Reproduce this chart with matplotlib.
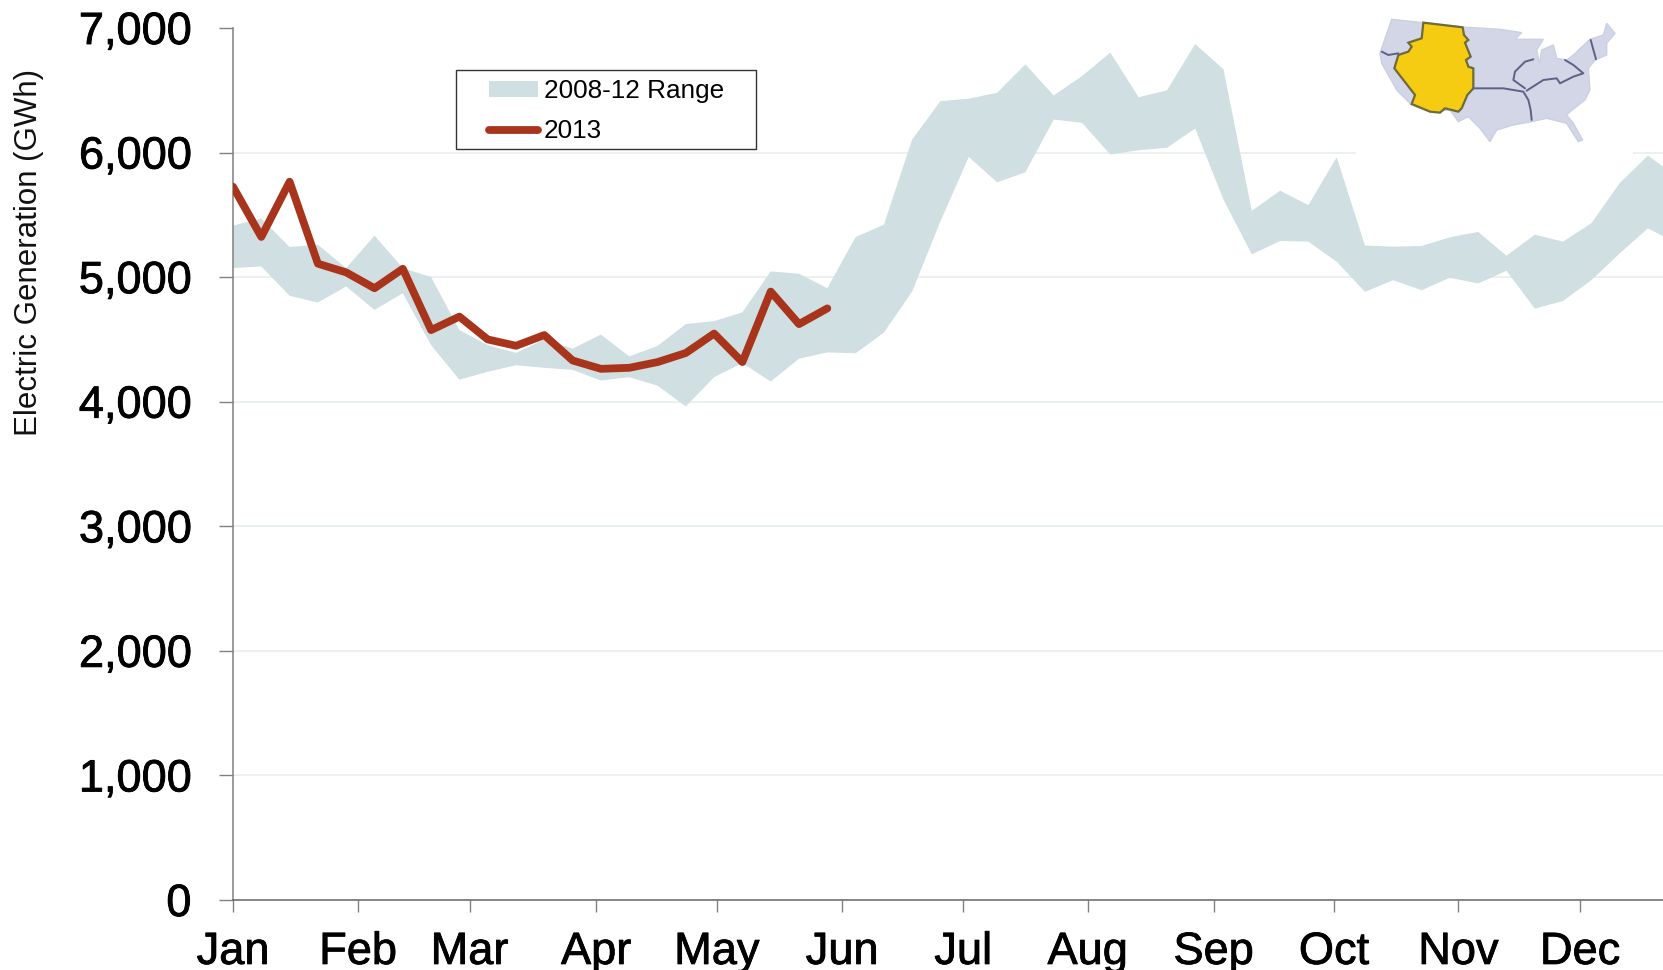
import numpy as np
import matplotlib
matplotlib.use("Agg")
import matplotlib.pyplot as plt
import matplotlib.patheffects as pe
from matplotlib.patches import Polygon, Rectangle

plt.rcParams['font.family'] = ['Liberation Sans', 'DejaVu Sans']

months = ['Jan', 'Feb', 'Mar', 'Apr', 'May', 'Jun', 'Jul', 'Aug', 'Sep', 'Oct', 'Nov', 'Dec']
month_tick_weeks = [0, 4.42, 8.36, 12.83, 17.1, 21.52, 25.8, 30.2, 34.65, 38.9, 43.3, 47.6]
y_ticks = [0, 1000, 2000, 3000, 4000, 5000, 6000, 7000]

range_upper = [5414, 5470, 5242, 5260, 5073, 5333, 5073, 5000, 4575, 4454, 4392, 4500,
               4426, 4539, 4364, 4447, 4623, 4647, 4717, 5046, 5027, 4911, 5322, 5421,
               6105, 6413, 6432, 6480, 6708, 6458, 6614, 6802, 6445, 6499, 6871, 6668,
               5532, 5694, 5578, 5962, 5253, 5245, 5250, 5320, 5363, 5172, 5341, 5285,
               5433, 5755, 5976, 5809]
range_lower = [5073, 5086, 4850, 4796, 4925, 4737, 4871, 4454, 4177, 4240, 4293, 4272,
               4256, 4170, 4197, 4129, 3962, 4197, 4310, 4162, 4345, 4396, 4389, 4555,
               4885, 5450, 5965, 5761, 5842, 6265, 6239, 5984, 6019, 6038, 6193, 5622,
               5183, 5290, 5285, 5124, 4882, 4976, 4895, 4995, 4949, 5051, 4747, 4809,
               4976, 5191, 5392, 5272]
gen_2013 = [5726, 5323, 5766, 5108, 5038, 4911, 5067, 4575, 4683, 4500, 4449, 4535,
            4331, 4264, 4272, 4318, 4391, 4547, 4318, 4884, 4623, 4749]

# Inset map outlines, in the map picture's own coordinates
us_outline = [(155,58),(250,68),(380,82),(480,88),(545,98),(525,118),(575,118),(610,118),(590,150),
              (598,190),(605,150),(640,135),(650,175),(680,180),(700,165),(750,118),(790,105),(800,70),
              (825,100),(800,130),(800,165),(765,180),(745,205),(750,270),(735,300),(690,335),(680,345),
              (700,370),(728,420),(715,425),(680,370),(620,355),(575,365),(520,375),(470,390),(450,425),
              (420,385),(385,350),(355,365),(330,330),(270,335),(215,315),(170,270),(125,190),(120,160),
              (130,130)]
west_region = [(250,68),(368,82),(372,105),(385,120),(375,128),(392,170),(378,180),(385,200),(400,205),
               (400,265),(382,285),(365,325),(355,335),(315,325),(300,338),(270,335),(215,312),(225,285),
               (163,205),(175,165),(205,155),(215,140),(205,128),(245,115)]
interties = [
    [(125,155),(145,165),(175,160)],
    [(400,265),(490,265),(550,275),(565,300),(572,330),(575,360)],
    [(555,265),(520,240),(525,215),(555,185),(580,178)],
    [(560,272),(610,240),(650,235),(660,250),(700,230),(730,220),(700,195),(675,180)],
    [(752,120),(768,178)],
]

W, H = 1663, 970
fig = plt.figure(figsize=((W + 0.01) / 100, (H + 0.01) / 100), dpi=100, facecolor='white')
left, right, top, bottom = 233, 1663, 28, 900
ax = fig.add_axes([left / W, 1 - bottom / H, (right - left) / W, (bottom - top) / H])

weeks = np.arange(len(range_upper))
week_px = 28.3
ax.set_xlim(0, (right - left) / week_px)
ax.set_ylim(0, 7000)

band = ax.fill_between(weeks, range_lower, range_upper, facecolor='#CFDFE2', edgecolor='none',
                       zorder=2, label='2008-12 Range')
line, = ax.plot(np.arange(len(gen_2013)), gen_2013, color='#A8341C', lw=5.6,
                solid_joinstyle='round', solid_capstyle='round', zorder=3, label='2013')

ax.set_axisbelow(True)
ax.set_yticks(y_ticks)
ax.set_yticklabels([f'{v:,}' for v in y_ticks])
ax.yaxis.grid(True, color='#E6ECEC', lw=1.1)
ax.xaxis.grid(False)
ax.yaxis.get_gridlines()[-1].set_visible(False)
for s in ('top', 'right'):
    ax.spines[s].set_visible(False)
ax.spines['left'].set_color('#808080')
ax.spines['left'].set_linewidth(1.1)
ax.spines['bottom'].set_color('#666666')
ax.spines['bottom'].set_linewidth(1.1)

ax.tick_params(axis='y', length=10, width=1.0, color='#808080', pad=20, labelsize=32.5, labelcolor='black')
ax.set_xticks(month_tick_weeks)
ax.set_xticklabels(months)
ax.tick_params(axis='x', length=8.5, width=1.0, color='#808080', pad=14.5, labelsize=32.5, labelcolor='black')
heavy = [pe.withStroke(linewidth=0.6, foreground='black')]
for t in ax.get_xticklabels() + ax.get_yticklabels():
    t.set_path_effects(heavy)

fig.text(29 / W, 1 - 252 / H, 'Electric Generation (GWh)', rotation=90, ha='center', va='center',
         fontsize=22.5, color='#111111')

# Legend frame drawn separately so the entries can sit inset from its left edge
ax.add_patch(Rectangle((456 / W, 1 - 149 / H), 300 / W, 79 / H, transform=fig.transFigure,
                       facecolor='white', edgecolor='#333333', lw=1.0, clip_on=False, zorder=4.5))
leg = ax.legend(handles=[band, line], loc='upper left',
                bbox_to_anchor=(489 / W, 1 - 79 / H), bbox_transform=fig.transFigure,
                fontsize=18.8, frameon=False, borderaxespad=0, borderpad=0, handlelength=1.88,
                handletextpad=0.23, labelspacing=0.63, handleheight=0.55)
leg.set_zorder(5)

# Inset locator map with its white background
m = fig.add_axes([1340 / W, 1 - 170 / H, 323 / W, 170 / H], zorder=6)
m.set_xlim(0, 969)
m.set_ylim(510, 0)
m.axis('off')
m.add_patch(Rectangle((48, 0), 832, 466, facecolor='white', edgecolor='none'))
m.add_patch(Polygon(us_outline, closed=True, facecolor='#D2D6E7', edgecolor='#CBD0E3', lw=1))
m.add_patch(Polygon(west_region, closed=True, facecolor='#F6CC12', edgecolor='#6E6A3C', lw=1.6))
for seg in interties:
    xs, ys = zip(*seg)
    m.plot(xs, ys, color='#5B6285', lw=1.4, solid_capstyle='round')

fig.savefig('out.png', dpi=100, facecolor='white')
